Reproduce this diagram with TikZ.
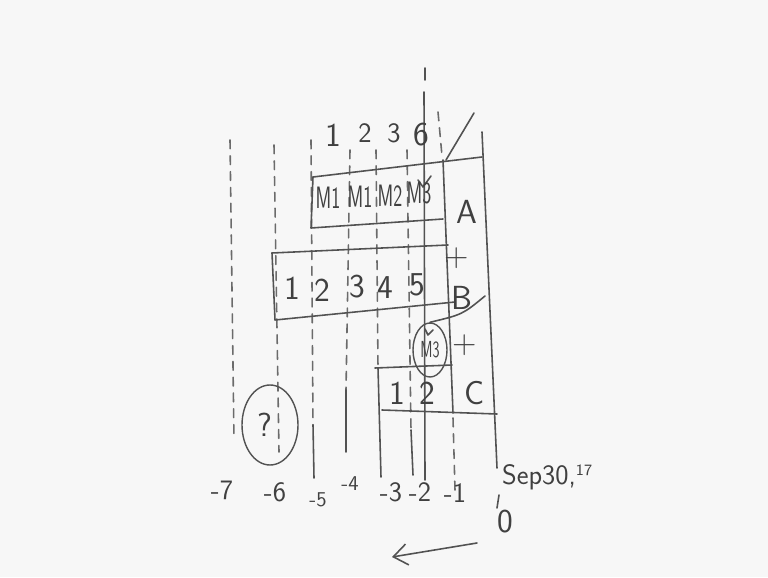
\documentclass[tikz,border=0pt]{standalone}
\usepackage{tikz}
\usetikzlibrary{shapes.geometric,arrows.meta}
\tikzset{
  wbpen/.style={line width=0.9pt, draw=black!68, line cap=round, line join=round},
  wbdash/.style={line width=0.9pt, draw=black!58, line cap=round, dash pattern=on 5pt off 4pt},
  wbring/.style={ellipse, draw=black!68, line width=0.8pt, inner sep=0pt},
  wbbig/.style={text=black!75, font=\sffamily\fontsize{19}{22}\selectfont, inner sep=1pt},
  wbmid/.style={text=black!75, font=\sffamily\fontsize{16}{19}\selectfont, inner sep=1pt},
  wbsmall/.style={text=black!75, font=\sffamily\fontsize{12}{14}\selectfont, inner sep=1pt},
}
\newcommand{\wbnarrow}[1]{\scalebox{0.68}[1.1]{#1}}
\begin{document}
\begin{tikzpicture}
\fill[black!3] (0,0) rectangle (15.360,11.540);
\useasboundingbox (0,0) rectangle (15.360,11.540);
% time columns
\draw[wbdash] (4.600,8.740) -- (4.680,2.740);
\draw[wbdash] (5.480,8.640) -- (5.580,2.500);
\draw[wbdash] (6.220,8.740) -- (6.260,3.040);
\draw[wbpen]  (6.260,3.040) -- (6.280,1.980);
\draw[wbdash] (7.000,8.540) -- (6.920,3.740);
\draw[wbpen]  (6.920,3.740) -- (6.920,2.500);
\draw[wbdash] (7.520,8.540) -- (7.560,4.180);
\draw[wbpen]  (7.560,4.180) -- (7.620,2.000);
\draw[wbdash] (8.140,8.540) -- (8.220,2.940);
\draw[wbpen]  (8.220,2.940) -- (8.260,2.040);
\draw[wbpen]  (8.500,10.180) -- (8.500,9.940);
\draw[wbpen]  (8.480,9.700) -- (8.500,1.940);
\draw[wbdash] (8.760,9.300) -- (8.840,8.420);
\draw[wbpen]  (8.860,8.340) -- (9.060,3.280);
\draw[wbdash] (9.060,3.180) -- (9.100,1.740);
\draw[wbpen]  (9.640,8.900) -- (9.940,2.180);
\draw[wbpen]  (9.980,1.640) -- (9.940,1.380);
% rows
\draw[wbpen] (6.260,8.000) -- (9.640,8.400);
\draw[wbpen] (6.260,8.000) -- (6.220,6.980) -- (8.860,7.160);
\draw[wbpen] (8.920,8.340) -- (9.480,9.280);
\draw[wbpen] (8.360,7.940) -- (8.460,7.800) -- (8.620,8.020);
\draw[wbpen] (5.440,6.480) -- (8.960,6.640);
\draw[wbpen] (5.440,6.480) -- (5.500,5.140) -- (9.100,5.500);
\draw[wbpen] (7.500,4.180) -- (9.040,4.240);
\draw[wbpen] (7.640,3.340) -- (9.940,3.260);
% labels
\node[wbbig] (t1) at (6.660,8.840) {1};
\node[wbmid] (t2) at (7.300,8.880) {2};
\node[wbmid] (t3) at (7.880,8.880) {3};
\node[wbbig] (t6) at (8.420,8.840) {6};
\node[wbmid] (ma1) at (6.560,7.580) {\wbnarrow{M1}};
\node[wbmid] (ma2) at (7.200,7.600) {\wbnarrow{M1}};
\node[wbmid] (ma3) at (7.800,7.620) {\wbnarrow{M2}};
\node[wbmid] (ma4) at (8.380,7.680) {\wbnarrow{M3}};
\node[wbbig] (rowa) at (9.340,7.300) {A};
\node[wbbig] (plus1) at (9.140,6.380) {+};
\node[wbbig] (b1) at (5.840,5.780) {1};
\node[wbbig] (b2) at (6.440,5.740) {2};
\node[wbbig] (b3) at (7.140,5.800) {3};
\node[wbbig] (b4) at (7.700,5.780) {4};
\node[wbbig] (b5) at (8.340,5.840) {5};
\node[wbbig] (rowb) at (9.240,5.580) {B};
\node[wbring, minimum width=0.68cm, minimum height=1.08cm] (m3c) at (8.600,4.540) {};
\node[wbsmall] (m3) at (8.600,4.540) {\wbnarrow{M3}};
\node[wbbig] (plus2) at (9.300,4.640) {+};
\node[wbbig] (c1) at (7.940,3.680) {1};
\node[wbbig] (c2) at (8.540,3.680) {2};
\node[wbbig] (rowc) at (9.500,3.680) {C};
\node[wbring, minimum width=1.12cm, minimum height=1.60cm] (qc) at (5.400,3.040) {};
\node[wbbig] (qm) at (5.300,3.040) {?};
\node[wbmid] (n7) at (4.440,1.740) {-7};
\node[wbmid] (n6) at (5.500,1.700) {-6};
\node[wbsmall] (n5) at (6.360,1.540) {-5};
\node[wbsmall] (n4) at (7.000,1.860) {-4};
\node[wbmid] (n3) at (7.820,1.700) {-3};
\node[wbmid] (n2) at (8.400,1.700) {-2};
\node[wbmid] (n1) at (9.100,1.680) {-1};
\node[wbbig] (n0) at (10.100,1.100) {0};
\node[wbmid, anchor=west] (date) at (10.000,2.000) {Sep30,\raisebox{5pt}{\small 17}};
% links
\coordinate (bhook) at (9.700,5.620);
\draw[wbpen] (bhook) .. controls (9.250,5.250) .. (m3c.north);
\draw[wbpen] (8.500,4.960) -- (8.560,4.840) -- (8.660,4.940);
\coordinate (dirs) at (9.540,0.680);
\coordinate (dire) at (7.840,0.400);
\draw[wbpen, -{Straight Barb[length=8pt,width=12pt]}] (dirs) -- (dire);
\end{tikzpicture}
\end{document}
